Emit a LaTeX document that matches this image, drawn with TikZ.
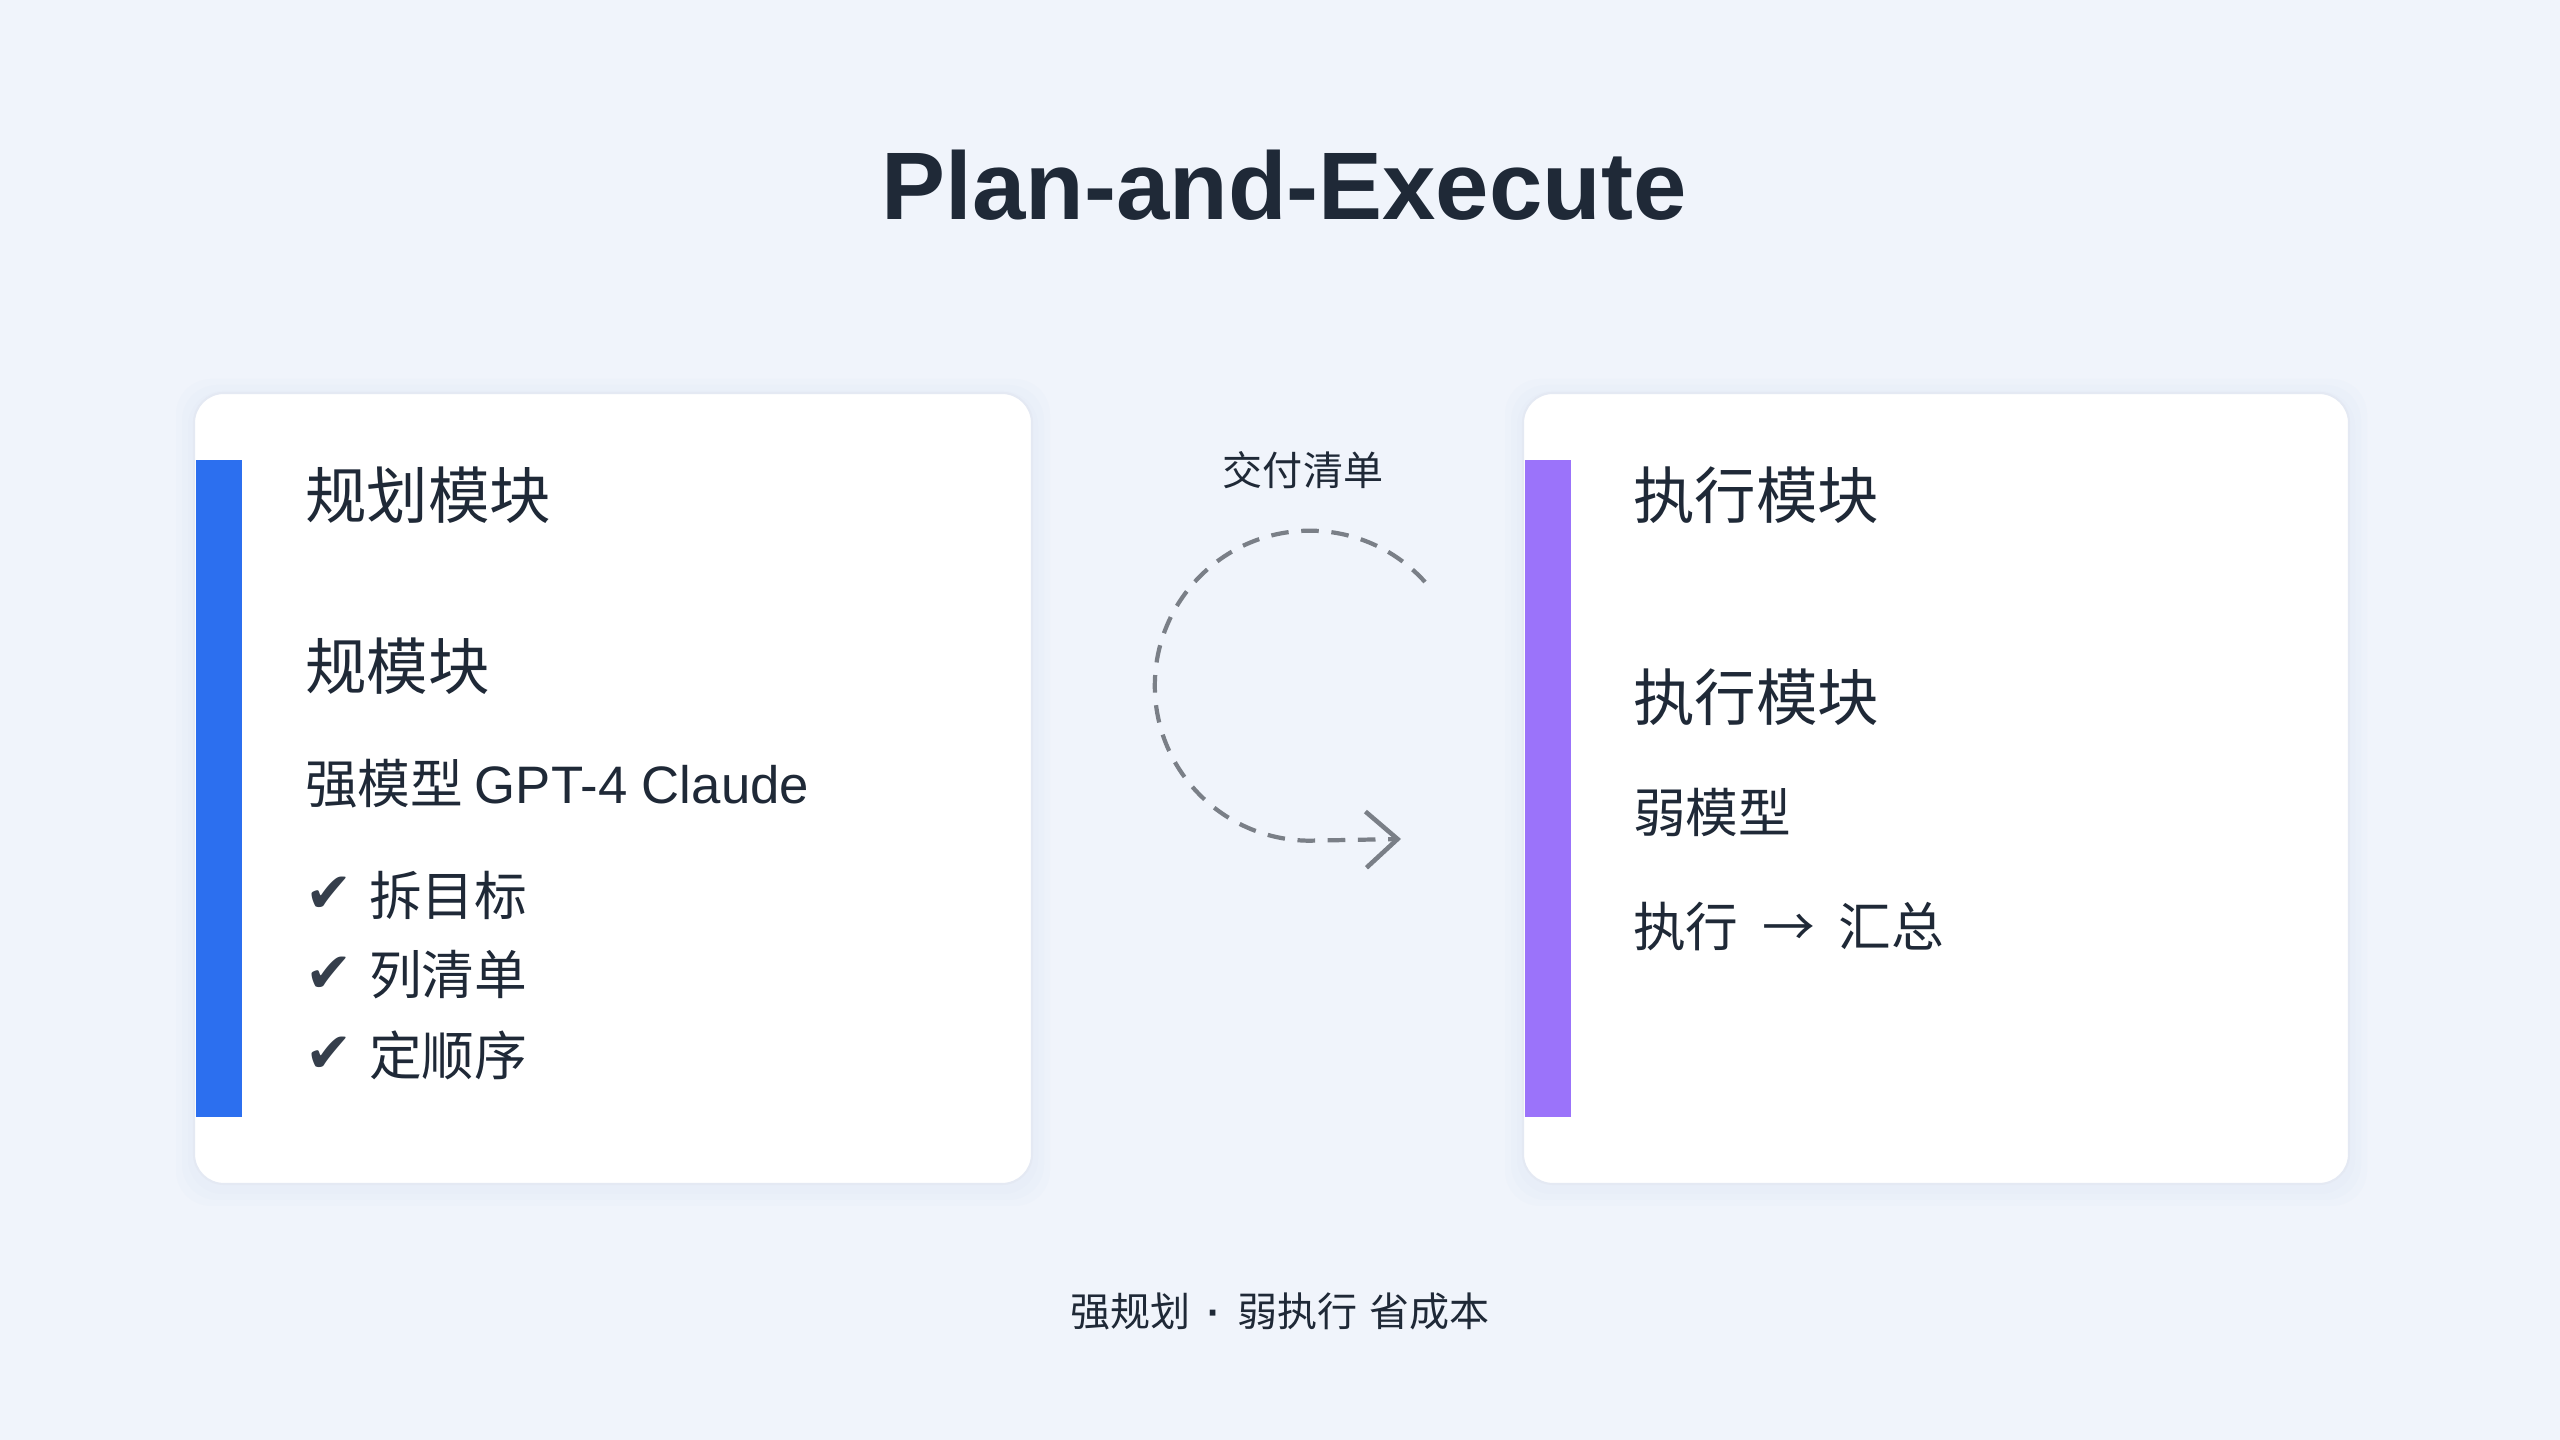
\documentclass[tikz,border=0pt]{standalone}
\usepackage{fontspec}
\setmainfont{Liberation Sans}
\newfontfamily\cjk{Noto Sans CJK SC}
\newfontfamily\symfont{DejaVu Sans}
\usetikzlibrary{arrows.meta}
\usetikzlibrary{positioning}

\definecolor{pagebg}{RGB}{240,244,251}
\definecolor{inkdark}{RGB}{31,41,55}
\definecolor{planblue}{RGB}{44,111,239}
\definecolor{execpurple}{RGB}{155,115,250}
\definecolor{loopgray}{RGB}{122,127,135}
\definecolor{cardedge}{RGB}{228,233,243}
\definecolor{haze}{RGB}{200,210,235}

\begin{document}
\begin{tikzpicture}[x=0.1mm, y=0.1mm,
    every node/.style={inner sep=0pt, outer sep=0pt, text=inkdark, anchor=west},
    card/.style={fill=white, draw=cardedge, line width=0.6pt, rounded corners=8.5pt},
    halo/.style={fill=haze, opacity=0.06, rounded corners=10pt},
    heading/.style={font=\cjk\fontsize{17.5}{21}\selectfont},
    body/.style={font=\cjk\fontsize{15}{18}\selectfont},
    caption/.style={anchor=center, font=\cjk\fontsize{11.4}{14}\selectfont},
    tick/.style={font=\symfont\fontsize{16}{19}\selectfont, text=inkdark!90},
    handoff/.style={->, draw=loopgray, line width=1.2pt, dash pattern=on 5pt off 3.6pt},
  ]
\tikzset{>={Straight Barb[length=9pt, width=16pt, line width=1.3pt]}}

  % page
  \fill[pagebg] (0,0) rectangle (2560,1440);
  \useasboundingbox (0,0) rectangle (2560,1440);

  % title
  \node[anchor=center, font=\bfseries\fontsize{27.3}{33}\selectfont] (title) at (1284,1255) {Plan-and-Execute};

  % cards
  \foreach \s in {6,12,18} {
    \fill[halo] (194-\s,256-\s-4) rectangle (1032+\s,1047+\s-4);
    \fill[halo] (1523-\s,256-\s-4) rectangle (2349+\s,1047+\s-4);
  }
  \draw[card] (194,256) rectangle (1032,1047);
  \draw[card] (1523,256) rectangle (2349,1047);
  \fill[planblue] (196,323) rectangle (242,980);
  \fill[execpurple] (1525,323) rectangle (1571,980);

  % planner
  \node[heading] (plan) at (305,945) {规划模块};
  \node[heading] (plansub) at (305,774) {规模块};
  \node[body] (planmodel) at (305,656) {强模型 {\rmfamily GPT-4 Claude}};
  \node[tick] (tickA) at (305,545) {✔};
  \node[tick] (tickB) at (305,465) {✔};
  \node[tick] (tickC) at (305,385) {✔};
  \node[body] (stepA) at (369,545) {拆目标};
  \node[body] (stepB) at (369,465) {列清单};
  \node[body] (stepC) at (369,385) {定顺序};

  % executor
  \node[heading] (exec) at (1633,945) {执行模块};
  \node[heading] (execsub) at (1633,743) {执行模块};
  \node[body] (execmodel) at (1633,627) {弱模型};
  \node[body] (execflow) at (1633,513) {执行\hspace{0.45em}→\hspace{0.45em}汇总};

  % hand-off loop
  \node[caption] (handlabel) at (1303,970) {交付清单};
  \coordinate (loopstart) at (1425,858);
  \coordinate (loopend) at (1401,601);
  \draw[handoff] (loopstart) arc[start angle=42, end angle=270, radius=155] -- (loopend);

  % footer
  \node[caption] (footer) at (1280,129) {强规划\hspace{0.42em}{\rmfamily\bfseries ·}\hspace{0.42em}弱执行\hspace{0.3em}省成本};

\end{tikzpicture}
\end{document}
